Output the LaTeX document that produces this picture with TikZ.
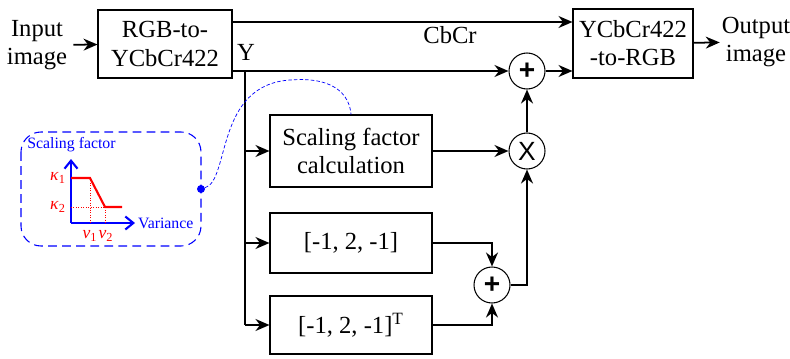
\documentclass[tikz,border=0pt]{standalone}
\usepackage{fontspec}
\setmainfont{Liberation Serif}
\newfontfamily\opfont{Liberation Sans}
\usetikzlibrary{arrows.meta,calc}
\tikzset{
  blk/.style={rectangle, draw, line width=0.6pt, align=center,
              font=\fontsize{14}{16}\selectfont, fill=white},
  opc/.style={circle, draw, line width=0.6pt, minimum size=0.72cm,
              inner sep=0pt, font=\opfont\fontsize{16}{16}\selectfont},
  arrow/.style={-{Stealth[length=2.8mm, width=2.4mm]}, line width=1pt},
  lbl/.style={font=\fontsize{14}{16}\selectfont, align=center},
  axis/.style={-{Straight Barb[length=1.6mm, width=2.6mm]}, blue, line width=1.2pt},
  small/.style={font=\fontsize{9}{10}\selectfont},
  greek/.style={font=\fontsize{10}{11}\selectfont, red, inner sep=1pt}
}

\begin{document}
\begin{tikzpicture}
\useasboundingbox (0,0) rectangle (15.8,-7.16);
% main blocks
\node[lbl] (inp) at (0.74,-0.9) {Input\\image};
\node[blk, minimum width=2.68cm, minimum height=1.36cm] (rgb) at (3.3,-0.88) {RGB-to-\\YCbCr422};
\node[blk, minimum width=2.4cm, minimum height=1.38cm] (ycc) at (12.66,-0.87) {YCbCr422\\-to-RGB};
\node[lbl, inner sep=1pt] (outp) at (15.12,-0.84) {Output\\image};
\node[blk, minimum width=3.24cm, minimum height=1.44cm] (sfc) at (7.02,-3.02) {Scaling factor\\calculation};
\node[blk, minimum width=3.24cm, minimum height=1.2cm] (filtH) at (7.02,-4.86) {[-1, 2, -1]};
\node[blk, minimum width=3.24cm, minimum height=1.16cm] (filtV) at (7.02,-6.5) {[-1, 2, -1]\textsuperscript{T}};
\node[opc] (addY) at (10.54,-1.42) {\textbf{+}};
\node[opc, font=\opfont\fontsize{15}{15}\selectfont] (mulS) at (10.54,-3.02) {X};
\node[opc] (addF) at (9.84,-5.7) {\textbf{+}};
\coordinate (ysplit) at (4.9,-1.42);
% connectors
\draw[arrow] (inp) -- (rgb);
\draw[arrow] (rgb.east |- 0,-0.44) -- (ycc.west |- 0,-0.44);
\node[lbl] (cbcr) at (9.0,-0.7) {CbCr};
\draw[arrow] (rgb.east |- addY) -- (addY);
\node[lbl] (ylbl) at (4.92,-1.04) {Y};
\draw[arrow] (addY) -- (ycc.west |- addY);
\draw[arrow] (ycc) -- (outp);
\draw[line width=1pt] (ysplit) -- (ysplit |- filtV);
\draw[arrow] (ysplit |- sfc) -- (sfc);
\draw[arrow] (ysplit |- filtH) -- (filtH);
\draw[arrow] (ysplit |- filtV) -- (filtV);
\draw[arrow] (sfc) -- (mulS);
\draw[arrow] (mulS) -- (addY);
\draw[arrow] (filtH.east) -| (addF.north);
\draw[arrow] (filtV.east) -| (addF.south);
\draw[arrow] (addF.east) -| (mulS.south);
% scaling factor inset
\draw[blue, dash pattern=on 5pt off 3pt, line width=0.6pt, rounded corners=0.4cm] (0.42,-2.64) rectangle (4.02,-4.92);
\node[circle, fill=blue, inner sep=0pt, minimum size=0.16cm] (dot) at (4.02,-3.78) {};
\draw[blue, dash pattern=on 2pt off 1.2pt, line width=0.4pt] (dot) .. controls (4.6,-3.6) and (4.3,-1.7) .. (5.8,-1.6)
  .. controls (6.8,-1.52) and (7.0,-2.0) .. (sfc.north);
\coordinate (orig) at (1.42,-4.46);
\draw[axis] (orig) -- (1.42,-3.18);
\draw[axis] (orig) -- (2.7,-4.46);
\node[small, blue] (sflbl) at (1.43,-2.9) {Scaling factor};
\node[small, blue, anchor=west, inner sep=1pt] (varlbl) at (2.72,-4.46) {Variance};
\draw[red, densely dotted, line width=0.4pt] (1.8,-3.56) -- (1.8,-4.46);
\draw[red, densely dotted, line width=0.4pt] (1.42,-4.14) -- (2.1,-4.14) -- (2.1,-4.46);
\draw[red, line width=1.2pt] (1.42,-3.56) -- (1.8,-3.56) -- (2.1,-4.14) -- (2.44,-4.14);
\node[greek, anchor=east] (k1) at (1.36,-3.56) {\textit{κ}\textsubscript{1}};
\node[greek, anchor=east] (k2) at (1.36,-4.14) {\textit{κ}\textsubscript{2}};
\node[greek] (v1) at (1.8,-4.72) {\textit{v}\textsubscript{1}};
\node[greek] (v2) at (2.12,-4.72) {\textit{v}\textsubscript{2}};
\end{tikzpicture}
\end{document}
